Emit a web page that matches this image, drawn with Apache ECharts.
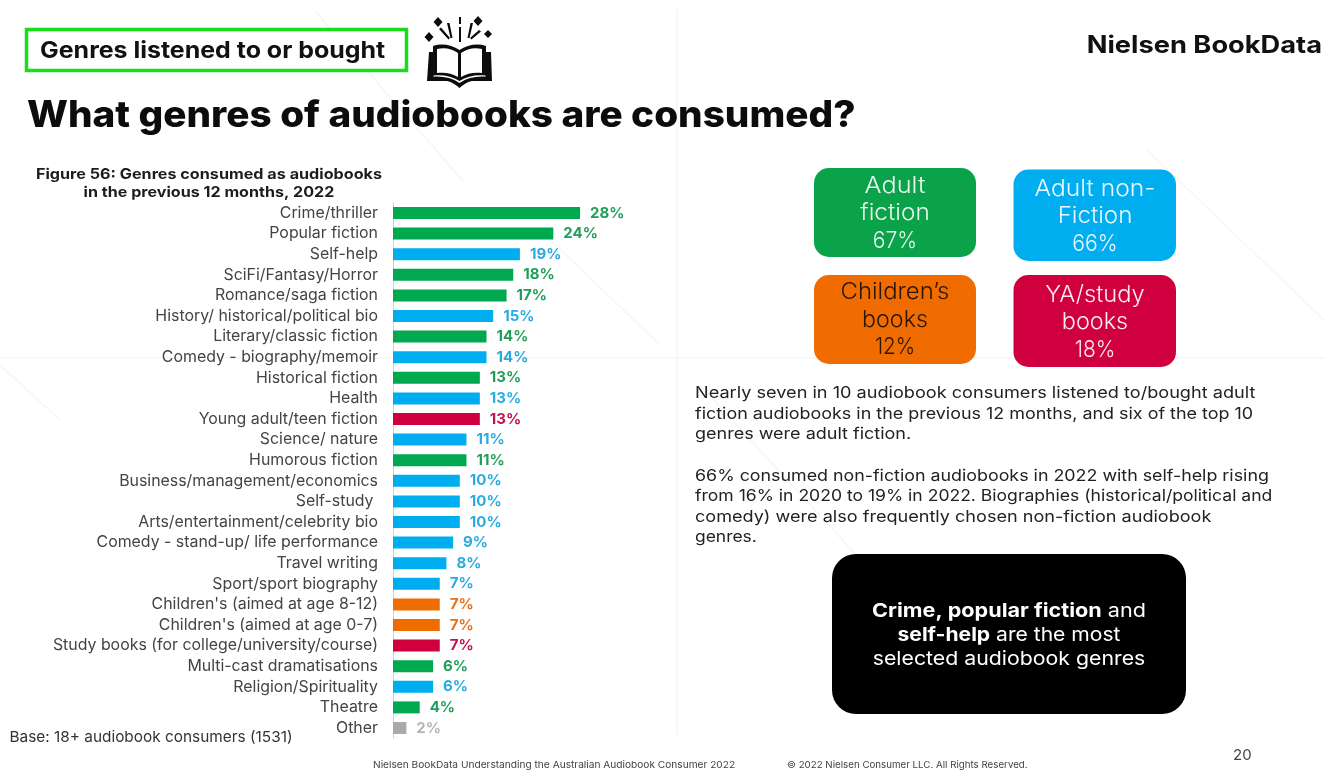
<!DOCTYPE html>
<html>
<head>
<meta charset="utf-8">
<title>What genres of audiobooks are consumed?</title>
<style>
  html, body { margin: 0; padding: 0; background: #fff; }
  #chart { width: 1324px; height: 773px; }
</style>
<script src="https://cdn.jsdelivr.net/npm/echarts@6/dist/echarts.min.js"></script>
</head>
<body>
<div id="chart"></div>
<script>
// Share of audiobook consumers per genre, top to bottom
const genres = [
  'Crime/thriller', 'Popular fiction', 'Self-help', 'SciFi/Fantasy/Horror', 'Romance/saga fiction',
  'History/ historical/political bio', 'Literary/classic fiction', 'Comedy - biography/memoir',
  'Historical fiction', 'Health', 'Young adult/teen fiction', 'Science/ nature', 'Humorous fiction',
  'Business/management/economics', 'Self-study ', 'Arts/entertainment/celebrity bio',
  'Comedy - stand-up/ life performance', 'Travel writing', 'Sport/sport biography',
  "Children's (aimed at age 8-12)", "Children's (aimed at age 0-7)",
  'Study books (for college/university/course)', 'Multi-cast dramatisations',
  'Religion/Spirituality', 'Theatre', 'Other'
];
const shares = [28, 24, 19, 18, 17, 15, 14, 14, 13, 13, 13, 11, 11, 10, 10, 10, 9, 8, 7, 7, 7, 7, 6, 6, 4, 2];
const groups = [
  'fiction', 'fiction', 'nonfiction', 'fiction', 'fiction', 'nonfiction', 'fiction', 'nonfiction',
  'fiction', 'nonfiction', 'ya', 'nonfiction', 'fiction', 'nonfiction', 'nonfiction', 'nonfiction',
  'nonfiction', 'nonfiction', 'nonfiction', 'children', 'children', 'ya', 'fiction', 'nonfiction',
  'fiction', 'other'
];

const barColors = { fiction: '#00a94f', nonfiction: '#00aeef', children: '#ef6c00', ya: '#d0003f', other: '#a9a9a9' };
const labelColors = { fiction: '#1f9e5a', nonfiction: '#29abe2', children: '#e8701a', ya: '#c4124a', other: '#b5b5b5' };

const FONT = 'Inter, "Open Sans", sans-serif';

// Text element; sx stretches it horizontally around its anchor
function text(x, y, str, size, opts) {
  const o = opts || {};
  return {
    type: 'text', x, y, scaleX: o.sx || 1, silent: true, z: o.z || 10,
    style: {
      text: str, fontFamily: FONT, fontSize: size, fontWeight: o.weight || 400,
      fill: o.fill || '#222', align: o.align || 'left', verticalAlign: 'middle',
      rich: o.rich
    }
  };
}

function tile(x, y, w, h, fill) {
  return { type: 'rect', silent: true, z: 5, shape: { x, y, width: w, height: h, r: 15 }, style: { fill } };
}

function tileText(x, y, str, fill, sx) {
  return text(x, y, str, 23, { fill, sx, align: 'center', weight: 300 });
}

function faintLine(x1, y1, x2, y2) {
  return { type: 'line', silent: true, z: 0, shape: { x1, y1, x2, y2 }, style: { stroke: '#f6f6f6', lineWidth: 1.5 } };
}

// Open book icon: black cover, white pages, rays and sparkles above
const coverPath = 'M429 52 L433 52 L433 46 C442 43 452 45 459.5 50 C467 45 477 43 486 46 L486 52 L491 52 L492 81 '
  + 'L472 81 C467 82 463 85 459.5 88 C456 85 452 82 447 81 L427 81 Z';
const pagesPath = [
  'M437 49 C445 47 452 49 458 53 L458 77 C452 73 444 72 437 73 Z',
  'M482 49 C474 47 467 49 461 53 L461 77 C467 73 475 72 482 73 Z',
  'M433.5 75.5 C443 74.5 452 76 459.5 81 C467 76 476 74.5 485.5 75.5 L485.5 76.7 C476 76 467 78 459.5 83 C452 78 443 76 433.5 76.7 Z'
].join(' ');
const sparkPath = [
  'M459 17 L461 17 L461 24 L459 24 Z', 'M459 27 L461 27 L461 42 L459 42 Z',
  'M447 23 L449.5 23 L452.5 38 L450.5 38 Z', 'M470.5 23 L473 23 L469.5 38 L467.5 38 Z',
  'M439 29 L441 27.5 L450 38 L448.5 39.5 Z', 'M479 30 L481 31.5 L471.5 39.5 L470 38 Z',
  'M438 17 L442.5 22 L438 27 L433.5 22 Z',
  'M478 16 L482.5 21 L478 26 L473.5 21 Z',
  'M429 32 L433.5 37 L429 42 L424.5 37 Z',
  'M488 30 L492 34 L488 38 L484 34 Z'
].join(' ');
echarts.graphic.registerShape('bookCover', echarts.graphic.extendPath(coverPath + ' ' + sparkPath));
echarts.graphic.registerShape('bookPages', echarts.graphic.extendPath(pagesPath));

const chart = echarts.init(document.getElementById('chart'), null, { renderer: 'canvas' });

chart.setOption({
  animation: false,
  backgroundColor: '#fff',
  grid: { left: 393, top: 202.7, width: 200.4, height: 535.6, containLabel: false },
  xAxis: { type: 'value', min: 0, max: 30, show: false },
  yAxis: {
    type: 'category',
    data: genres,
    inverse: true,
    axisLine: { show: true, lineStyle: { color: '#d2d2d2', width: 1 } },
    axisTick: { show: false },
    axisLabel: { color: '#444', fontSize: 15.9, fontFamily: FONT, margin: 15, interval: 0, padding: [2, 0, 0, 0] }
  },
  series: [{
    type: 'bar',
    barWidth: 12,
    data: shares.map((v, i) => ({
      value: v,
      itemStyle: { color: barColors[groups[i]] },
      label: { color: labelColors[groups[i]] }
    })),
    label: {
      show: true, position: 'right', distance: 10,
      formatter: '{c}%', fontSize: 15, fontWeight: 700, fontFamily: FONT
    }
  }],
  graphic: { elements: [
    // Faint slide watermark lines
    faintLine(677, 10, 677, 735),
    faintLine(0, 358, 1324, 358),
    faintLine(316, 12, 463, 181),
    faintLine(540, 230, 660, 345),
    faintLine(700, 385, 870, 570),
    faintLine(1147, 150, 1324, 320),
    faintLine(0, 365, 60, 420),

    // Section tag and icon
    { type: 'rect', silent: true, z: 5, shape: { x: 26.5, y: 29.5, width: 380, height: 41 },
      style: { fill: '#fff', stroke: '#1bdc1b', lineWidth: 3.5 } },
    text(40, 51, 'Genres listened to or bought', 23, { weight: 700, fill: '#111', sx: 1.085 }),
    { type: 'bookCover', silent: true, z: 6, style: { fill: '#0c0c0c' } },
    { type: 'bookPages', silent: true, z: 7, style: { fill: '#fff' } },
    text(1322, 45.5, 'Nielsen BookData', 24, { weight: 700, fill: '#111', align: 'right', sx: 1.135 }),

    // Headline
    text(27, 116, 'What genres of audiobooks are consumed?', 36.5, { weight: 800, fill: '#0c0c0c', sx: 1.06 }),

    // Figure caption
    text(209, 174.5, 'Figure 56: Genres consumed as audiobooks', 14.5, { weight: 700, fill: '#1c1c1c', align: 'center', sx: 1.115 }),
    text(209, 192.5, 'in the previous 12 months, 2022', 14.5, { weight: 700, fill: '#1c1c1c', align: 'center', sx: 1.11 }),

    // Category summary tiles
    tile(814, 168, 162, 89, '#0aa34a'),
    tile(1013.5, 169.5, 162.5, 91.5, '#00aeef'),
    tile(814, 275, 162, 89, '#f06c00'),
    tile(1013.5, 275, 162.5, 92, '#d0003f'),
    tileText(895, 186, 'Adult', '#e9f6ee', 1.1),
    tileText(895, 213.5, 'fiction', '#e9f6ee', 1.06),
    tileText(895, 241, '67%', '#e9f6ee', 0.92),
    tileText(1095, 189, 'Adult non-', '#e9f8fe', 1.07),
    tileText(1095, 216.5, 'Fiction', '#e9f8fe', 1.05),
    tileText(1095, 244, '66%', '#e9f8fe', 0.92),
    tileText(895, 292.5, 'Children\u2019s', '#2a1506', 1.04),
    tileText(895, 320, 'books', '#2a1506', 1.01),
    tileText(895, 347.5, '12%', '#2a1506', 0.9),
    tileText(1095, 295, 'YA/study', '#fdeaf0', 1.03),
    tileText(1095, 322.5, 'books', '#fdeaf0', 1.02),
    tileText(1095, 350, '18%', '#fdeaf0', 0.91),

    // Commentary
    text(695, 393.5, 'Nearly seven in 10 audiobook consumers listened to/bought adult', 16, { sx: 1.133 }),
    text(695, 414, 'fiction audiobooks in the previous 12 months, and six of the top 10', 16, { sx: 1.12 }),
    text(695, 434.5, 'genres were adult fiction.', 16, { sx: 1.125 }),
    text(695, 476, '66% consumed non-fiction audiobooks in 2022 with self-help rising', 16, { sx: 1.115 }),
    text(695, 496.5, 'from 16% in 2020 to 19% in 2022. Biographies (historical/political and', 16, { sx: 1.097 }),
    text(695, 517, 'comedy) were also frequently chosen non-fiction audiobook', 16, { sx: 1.13 }),
    text(695, 537.5, 'genres.', 16, { sx: 1.09 }),

    // Key takeaway panel
    { type: 'rect', silent: true, z: 5, shape: { x: 832, y: 554, width: 354, height: 160, r: 24 }, style: { fill: '#000' } },
    text(1009, 611, '{b|Crime, popular fiction} and', 19, { fill: '#fff', align: 'center', sx: 1.137,
      rich: { b: { fontFamily: FONT, fontSize: 19, fontWeight: 700, fill: '#fff' } } }),
    text(1009, 635, '{b|self-help} are the most', 19, { fill: '#fff', align: 'center', sx: 1.11,
      rich: { b: { fontFamily: FONT, fontSize: 19, fontWeight: 700, fill: '#fff' } } }),
    text(1009, 659, 'selected audiobook genres', 19, { fill: '#fff', align: 'center', sx: 1.12 }),

    // Base note and slide furniture
    text(9.5, 737.5, 'Base: 18+ audiobook consumers (1531)', 15, { fill: '#333', sx: 1.025 }),
    text(373, 765.5, 'Nielsen BookData Understanding the Australian Audiobook Consumer 2022', 9.5, { fill: '#444', sx: 1.068 }),
    text(787, 765.5, '\u00A9 2022 Nielsen Consumer LLC. All Rights Reserved.', 9.5, { fill: '#444', sx: 1.025 }),
    text(1233, 755, '20', 15, { fill: '#444' })
  ] }
});
</script>
</body>
</html>
